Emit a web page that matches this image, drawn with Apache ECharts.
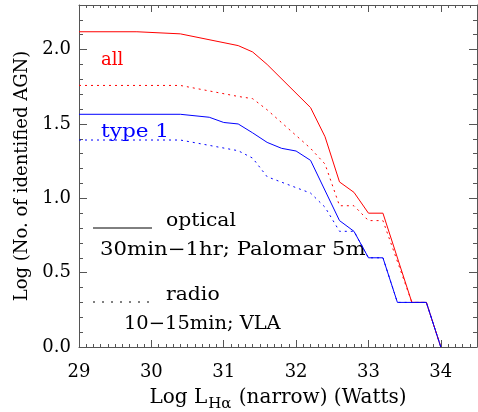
<!DOCTYPE html>
<html>
<head>
<meta charset="utf-8">
<script src="https://cdn.jsdelivr.net/npm/echarts@6/dist/echarts.min.js"></script>
<style>
  html, body { margin: 0; padding: 0; background: #fff; }
  #chart { width: 478px; height: 412px; }
</style>
</head>
<body>
<div id="chart"></div>
<script>
let myChart = echarts.init(document.getElementById('chart'));

const FONT = 'DejaVu Serif';

// Log L_Halpha (narrow) vs Log N
const allOptical = [[29.0, 2.12], [29.8, 2.12], [30.4, 2.106], [31.2, 2.027], [31.4, 1.984], [31.6, 1.90],
    [32.2, 1.61], [32.4, 1.414], [32.6, 1.11], [32.8, 1.04], [33.0, 0.90], [33.2, 0.90],
    [33.6, 0.30], [33.8, 0.30], [34.0, 0.0]];
const allRadio = [[29.0, 1.759], [30.4, 1.759], [31.2, 1.685], [31.4, 1.67], [31.6, 1.595], [32.2, 1.336],
    [32.4, 1.23], [32.6, 0.95], [32.8, 0.95], [33.0, 0.85], [33.2, 0.85], [33.6, 0.30],
    [33.8, 0.30], [34.0, 0.0]];
const type1Optical = [[29.0, 1.565], [30.4, 1.565], [30.8, 1.545], [31.0, 1.51], [31.2, 1.50], [31.4, 1.44],
    [31.6, 1.376], [31.8, 1.336], [32.0, 1.318], [32.2, 1.255], [32.6, 0.85], [32.8, 0.778],
    [33.0, 0.60], [33.2, 0.60], [33.4, 0.30], [33.8, 0.30], [34.0, 0.0]];
const type1Radio = [[29.0, 1.392], [30.4, 1.392], [31.2, 1.32], [31.4, 1.27], [31.6, 1.145], [32.2, 1.035],
    [32.4, 0.94], [32.6, 0.778], [32.8, 0.778], [33.0, 0.60], [33.2, 0.60], [33.4, 0.30],
    [33.8, 0.30], [34.0, 0.0]];

const axisColor = '#555';

function xAxisDef(pos, labels) {
    return {
        type: 'value', position: pos, min: 29, max: 34.5, interval: 1,
        axisLine: {show: true, onZero: false, lineStyle: {color: axisColor, width: 1}},
        axisTick: {show: true, inside: true, length: 7, lineStyle: {color: axisColor}},
        minorTick: {show: true, splitNumber: 10, length: 3, lineStyle: {color: axisColor}},
        splitLine: {show: false},
        axisLabel: {
            show: labels, margin: 16, color: '#000', fontFamily: FONT, fontSize: 18,
            showMaxLabel: false,
            formatter: v => Number.isInteger(v) ? String(v) : ''
        }
    };
}

function yAxisDef(pos, labels) {
    return {
        type: 'value', position: pos, min: 0, max: 2.3, interval: 0.5,
        axisLine: {show: true, onZero: false, lineStyle: {color: axisColor, width: 1}},
        axisTick: {show: true, inside: true, length: 8, lineStyle: {color: axisColor}},
        minorTick: {show: true, splitNumber: 5, length: 4, lineStyle: {color: axisColor}},
        splitLine: {show: false},
        axisLabel: {
            show: labels, margin: 8, color: '#000', fontFamily: FONT, fontSize: 18,
            showMaxLabel: false,
            formatter: v => (Math.abs(v * 2 - Math.round(v * 2)) < 1e-6) ? v.toFixed(1) : ''
        }
    };
}

function line(data, color, dotted) {
    return {
        type: 'line', data: data, symbol: 'none', xAxisIndex: 0, yAxisIndex: 0,
        lineStyle: {color: color, width: 1, type: dotted ? [2, 4] : 'solid'},
        z: 3
    };
}

// plain text label, stretched a bit to match the wide plot font
function label(text, x, y, color, sx) {
    return {
        type: 'text', left: x, top: y, scaleX: sx || 1,
        style: {text: text, fill: color, font: '18px ' + FONT}
    };
}

let xBottom = xAxisDef('bottom', true);
xBottom.name = '{a|Log L}{s|H\u03b1}{a| (narrow) (Watts)}';
xBottom.nameLocation = 'middle';
xBottom.nameGap = 36;
xBottom.nameTextStyle = {
    rich: {
        a: {fontFamily: FONT, fontSize: 20, color: '#000'},
        s: {fontFamily: FONT, fontSize: 15, color: '#000', padding: [14, 1, 0, 1]}
    }
};

let yLeft = yAxisDef('left', true);
yLeft.name = 'Log (No. of identified AGN)';
yLeft.nameLocation = 'middle';
yLeft.nameGap = 48;
yLeft.nameTextStyle = {fontFamily: FONT, fontSize: 18, color: '#000'};

let option = {
    animation: false,
    backgroundColor: '#fff',
    grid: {left: 79, right: 1, top: 5, bottom: 65, outerBoundsMode: 'none'},
    xAxis: [xBottom, xAxisDef('top', false)],
    yAxis: [yLeft, yAxisDef('right', false)],
    series: [
        line(allOptical, '#ff0000', false),
        line(allRadio, '#ff0000', true),
        line(type1Optical, '#0000ff', false),
        line(type1Radio, '#0000ff', true)
    ],
    graphic: [
        label('all', 101, 51, '#ff0000'),
        label('type 1', 101, 123, '#0000ff', 1.2),
        {type: 'line', shape: {x1: 93, y1: 228, x2: 152, y2: 228}, style: {stroke: '#000', lineWidth: 1}},
        label('optical', 166, 212, '#000', 1.13),
        label('30min\u22121hr; Palomar 5m', 100, 241, '#000', 1.18),
        {type: 'line', shape: {x1: 93, y1: 302, x2: 155, y2: 302}, style: {stroke: '#000', lineWidth: 1, lineDash: [2, 7]}},
        label('radio', 166, 286, '#000', 1.13),
        label('10\u221215min; VLA', 124, 315, '#000', 1.08)
    ]
};

myChart.setOption(option);
</script>
</body>
</html>
